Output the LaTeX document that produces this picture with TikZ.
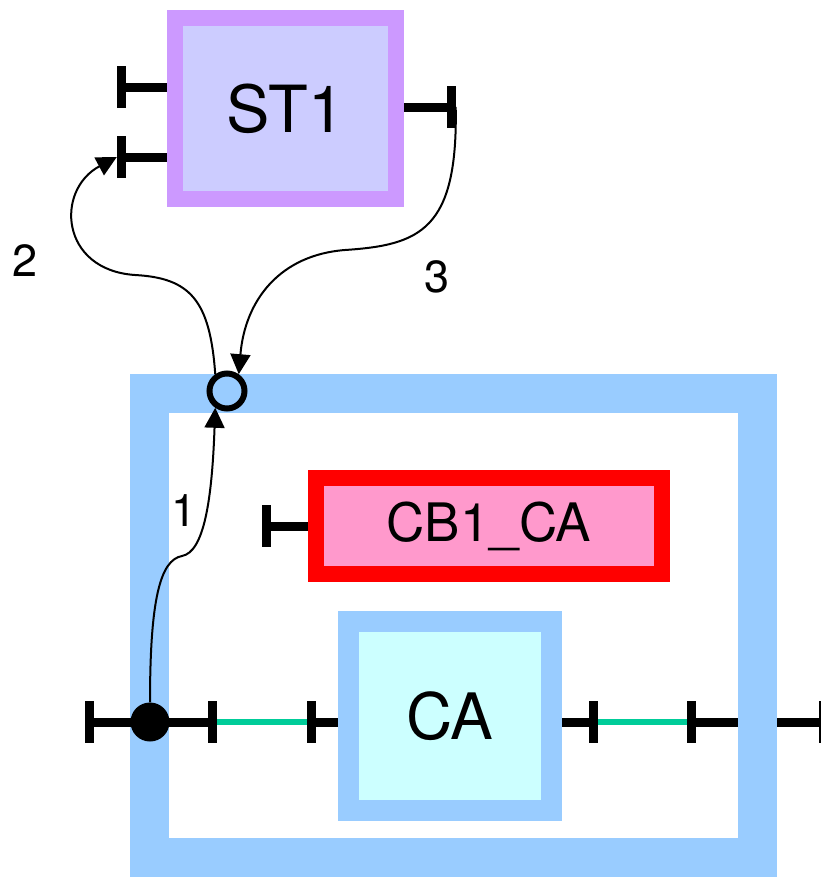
\documentclass[tikz,border=0pt]{standalone}
\usepackage{fontspec}
\setmainfont{TeX Gyre Heros}
\definecolor{StLilac}{HTML}{CC99FF}
\definecolor{StFill}{HTML}{CCCCFF}
\definecolor{CbRed}{HTML}{FF0000}
\definecolor{CbFill}{HTML}{FF99CC}
\definecolor{FrameBlue}{HTML}{99CCFF}
\definecolor{CaFill}{HTML}{CCFFFF}
\definecolor{WireGreen}{HTML}{00CC99}
\usetikzlibrary{positioning,arrows.meta,calc}
\tikzset{>={Triangle[length=20pt,width=20pt]}}
\tikzset{blocknode/.style={draw,rectangle,inner sep=0pt,text=black}}
\tikzset{portbar/.style={fill=black,inner sep=0pt,minimum width=9pt,minimum height=42pt}}
\tikzset{portline/.style={line width=9pt}}
\tikzset{wireline/.style={line width=6pt,draw=WireGreen}}
\tikzset{flowline/.style={->,line width=2pt}}
\tikzset{numlabel/.style={font=\fontsize{45}{50}\selectfont}}

\begin{document}
\begin{tikzpicture}[x=1pt, y=-1pt]
            \useasboundingbox (0,0) rectangle (821,878);
            \clip (0,0) rectangle (821,878);
            % composite frame
            \node[blocknode, draw=FrameBlue, line width=39pt, minimum width=608pt, minimum height=464pt] (frame) at (453.5,625.5) {};
            \node[blocknode, draw=StLilac, fill=StFill, line width=16pt, minimum width=221pt, minimum height=181pt,
                  font=\fontsize{65}{70}\selectfont] (st1) at (285.5,108.5) {ST1};
            \node[blocknode, draw=CbRed, fill=CbFill, line width=16pt, minimum width=346pt, minimum height=96pt,
                  font=\fontsize{53}{60}\selectfont] (cb1) at (489,526) {CB1\_CA};
            \node[blocknode, draw=FrameBlue, fill=CaFill, line width=21pt, minimum width=203pt, minimum height=189pt,
                  font=\fontsize{64}{70}\selectfont] (ca) at (450,716) {CA};
            % ports
            \node[portbar] (st1in)  at (121.5, 87) {};
            \node[portbar] (st1fb)  at (121.5,157) {};
            \node[portbar] (st1out) at (451,107) {};
            \node[portbar] (cbin)   at (266,526) {};
            \node[portbar] (frin)   at (89.5,722) {};
            \node[portbar] (frinA)  at (212.5,722) {};
            \node[portbar] (cain)   at (311.5,722) {};
            \node[portbar] (caout)  at (593.5,722) {};
            \node[portbar] (frinB)  at (691.5,722) {};
            \node[portbar] (frout)  at (823,722) {};
            \draw[portline] (st1in.center) -- (st1.west |- st1in);
            \draw[portline] (st1fb.center) -- (st1.west |- st1fb);
            \draw[portline] (st1.east |- st1out) -- (st1out.center);
            \draw[portline] (cbin.center) -- (cb1.west |- cbin);
            \draw[portline] (frin.center) -- (frinA.center);
            \draw[portline] (cain.center) -- (ca.west |- cain);
            \draw[portline] (ca.east |- caout) -- (caout.center);
            \draw[portline] (frinB.center) -- ([xshift=-39pt]frame.east |- frinB);
            \draw[portline] (frame.east |- frout) -- (frout.center);
            \draw[wireline] (frinA.east) -- (cain.west);
            \draw[wireline] (caout.east) -- (frinB.west);
            % junctions
            \node[circle, fill=black, inner sep=0pt, minimum size=39pt] (jn) at (150,722) {};
            \node[circle, draw=black, fill=FrameBlue, line width=6pt, inner sep=0pt, minimum size=35pt] (sp) at (227,391) {};
            % flows
            \draw[flowline] (jn.north) .. controls (150,600) and (160,560) .. (182,556)
                                      .. controls (204,552) and (212,500) .. (sp.235);
            \draw[flowline] (sp.125) .. controls (210,300) and (190,278) .. (135,275)
                                     .. controls (60,270) and (55,190) .. (st1fb.west);
            \draw[flowline] (st1out.east) .. controls (458,230) and (420,245) .. (345,250)
                                          .. controls (280,255) and (245,300) .. (sp.55);
            \node[numlabel] (lab1) at (184,511) {1};
            \node[numlabel] (lab2) at (25,261) {2};
            \node[numlabel] (lab3) at (437,277) {3};
\end{tikzpicture}
\end{document}
